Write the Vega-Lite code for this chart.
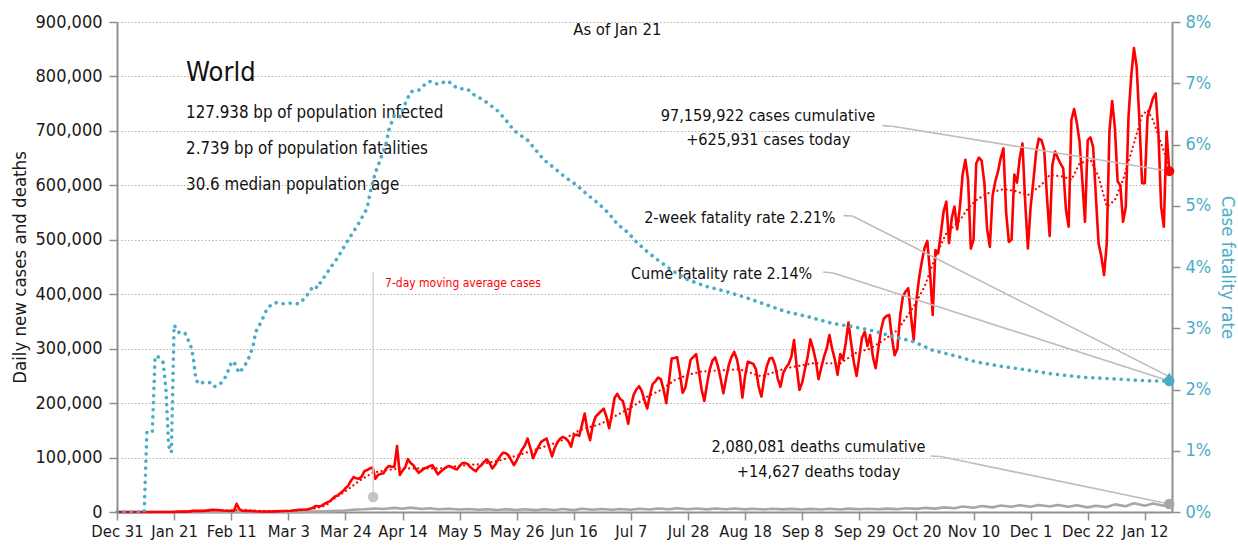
{
"$schema": "https://vega.github.io/schema/vega-lite/v6.json",
"width": 1055,
"height": 490,
"autosize": {"type": "none"},
"padding": {"left": 117, "top": 22, "right": 66, "bottom": 38},
"background": "white",
"config": {
  "font": "DejaVu Sans Condensed, Roboto, sans-serif",
  "view": {"stroke": null},
  "axis": {"domainColor": "#8f8f8f", "domainWidth": 2, "tickColor": "#8f8f8f", "tickWidth": 1.5, "tickSize": 8, "labelFontSize": 18, "labelColor": "#1a1a1a", "titleFontSize": 18.5, "titleFontWeight": "normal", "titleColor": "#1a1a1a", "grid": false, "labelFont": "DejaVu Sans Condensed, Roboto, sans-serif", "titleFont": "DejaVu Sans Condensed, Roboto, sans-serif"}
},
"datasets": {
"cases": [
{"date":"2019-12-31","v":0},{"date":"2020-01-10","v":0},{"date":"2020-01-20","v":100},{"date":"2020-01-23","v":600},{"date":"2020-01-26","v":700},{"date":"2020-01-28","v":2000},{"date":"2020-01-30","v":2000},{"date":"2020-02-01","v":2100},{"date":"2020-02-04","v":3900},{"date":"2020-02-06","v":3700},{"date":"2020-02-08","v":2700},{"date":"2020-02-11","v":2000},{"date":"2020-02-12","v":2000},{"date":"2020-02-13","v":15100},{"date":"2020-02-14","v":5000},{"date":"2020-02-15","v":2600},{"date":"2020-02-18","v":1900},{"date":"2020-02-21","v":1000},{"date":"2020-02-24","v":600},{"date":"2020-02-27","v":1200},
{"date":"2020-03-01","v":1900},{"date":"2020-03-04","v":2400},{"date":"2020-03-07","v":4000},{"date":"2020-03-10","v":4500},{"date":"2020-03-12","v":7500},{"date":"2020-03-13","v":11000},{"date":"2020-03-14","v":10500},{"date":"2020-03-15","v":11000},{"date":"2020-03-16","v":14000},{"date":"2020-03-17","v":17000},{"date":"2020-03-18","v":19000},{"date":"2020-03-19","v":23000},{"date":"2020-03-20","v":28000},{"date":"2020-03-21","v":30000},{"date":"2020-03-22","v":34000},{"date":"2020-03-23","v":38000},{"date":"2020-03-24","v":43500},{"date":"2020-03-25","v":48000},{"date":"2020-03-26","v":57000},{"date":"2020-03-27","v":64000},{"date":"2020-03-28","v":62000},{"date":"2020-03-29","v":61000},{"date":"2020-03-30","v":65000},{"date":"2020-03-31","v":75000},
{"date":"2020-04-01","v":77000},{"date":"2020-04-02","v":80000},{"date":"2020-04-03","v":82000},{"date":"2020-04-04","v":61000},{"date":"2020-04-05","v":68000},{"date":"2020-04-06","v":70000},{"date":"2020-04-07","v":71000},{"date":"2020-04-08","v":80000},{"date":"2020-04-09","v":84500},{"date":"2020-04-10","v":83000},{"date":"2020-04-11","v":83000},{"date":"2020-04-12","v":121000},{"date":"2020-04-13","v":68000},{"date":"2020-04-14","v":76000},{"date":"2020-04-15","v":82000},{"date":"2020-04-16","v":97000},{"date":"2020-04-17","v":90000},{"date":"2020-04-18","v":86000},{"date":"2020-04-19","v":78000},{"date":"2020-04-20","v":72000},{"date":"2020-04-21","v":76000},{"date":"2020-04-22","v":80000},{"date":"2020-04-23","v":82000},{"date":"2020-04-24","v":84000},{"date":"2020-04-25","v":86000},{"date":"2020-04-26","v":78000},{"date":"2020-04-27","v":69000},{"date":"2020-04-28","v":74000},{"date":"2020-04-29","v":78000},{"date":"2020-04-30","v":82000},
{"date":"2020-05-01","v":84500},{"date":"2020-05-02","v":83000},{"date":"2020-05-03","v":80000},{"date":"2020-05-04","v":78000},{"date":"2020-05-05","v":84000},{"date":"2020-05-06","v":90000},{"date":"2020-05-07","v":90000},{"date":"2020-05-08","v":88000},{"date":"2020-05-09","v":82000},{"date":"2020-05-10","v":78000},{"date":"2020-05-11","v":75000},{"date":"2020-05-12","v":82000},{"date":"2020-05-13","v":86000},{"date":"2020-05-14","v":92000},{"date":"2020-05-15","v":96700},{"date":"2020-05-16","v":90000},{"date":"2020-05-17","v":80000},{"date":"2020-05-18","v":86000},{"date":"2020-05-19","v":95000},{"date":"2020-05-20","v":103000},{"date":"2020-05-21","v":109000},{"date":"2020-05-22","v":108000},{"date":"2020-05-23","v":104000},{"date":"2020-05-24","v":95000},{"date":"2020-05-25","v":86000},{"date":"2020-05-26","v":95000},{"date":"2020-05-27","v":105000},{"date":"2020-05-28","v":115000},{"date":"2020-05-29","v":122000},{"date":"2020-05-30","v":135000},{"date":"2020-05-31","v":118000},
{"date":"2020-06-01","v":99000},{"date":"2020-06-02","v":110000},{"date":"2020-06-03","v":120000},{"date":"2020-06-04","v":129000},{"date":"2020-06-05","v":132000},{"date":"2020-06-06","v":135000},{"date":"2020-06-07","v":118000},{"date":"2020-06-08","v":102000},{"date":"2020-06-09","v":118000},{"date":"2020-06-10","v":128000},{"date":"2020-06-11","v":135000},{"date":"2020-06-12","v":138000},{"date":"2020-06-13","v":135000},{"date":"2020-06-14","v":130000},{"date":"2020-06-15","v":120000},{"date":"2020-06-16","v":141000},{"date":"2020-06-17","v":142000},{"date":"2020-06-18","v":140000},{"date":"2020-06-19","v":160000},{"date":"2020-06-20","v":181000},{"date":"2020-06-21","v":150000},{"date":"2020-06-22","v":132000},{"date":"2020-06-23","v":160000},{"date":"2020-06-24","v":175000},{"date":"2020-06-25","v":180000},{"date":"2020-06-26","v":185000},{"date":"2020-06-27","v":190000},{"date":"2020-06-28","v":175000},{"date":"2020-06-29","v":154000},{"date":"2020-06-30","v":180000},
{"date":"2020-07-01","v":210000},{"date":"2020-07-02","v":217000},{"date":"2020-07-03","v":208000},{"date":"2020-07-04","v":204000},{"date":"2020-07-05","v":185000},{"date":"2020-07-06","v":162000},{"date":"2020-07-07","v":195000},{"date":"2020-07-08","v":215000},{"date":"2020-07-09","v":225000},{"date":"2020-07-10","v":231000},{"date":"2020-07-11","v":222000},{"date":"2020-07-12","v":205000},{"date":"2020-07-13","v":190000},{"date":"2020-07-14","v":215000},{"date":"2020-07-15","v":235000},{"date":"2020-07-16","v":240000},{"date":"2020-07-17","v":247000},{"date":"2020-07-18","v":244000},{"date":"2020-07-19","v":225000},{"date":"2020-07-20","v":200000},{"date":"2020-07-21","v":240000},{"date":"2020-07-22","v":282000},{"date":"2020-07-23","v":283000},{"date":"2020-07-24","v":284000},{"date":"2020-07-25","v":255000},{"date":"2020-07-26","v":219000},{"date":"2020-07-27","v":228000},{"date":"2020-07-28","v":255000},{"date":"2020-07-29","v":280000},{"date":"2020-07-30","v":285000},{"date":"2020-07-31","v":290000},
{"date":"2020-08-01","v":258000},{"date":"2020-08-02","v":225000},{"date":"2020-08-03","v":204000},{"date":"2020-08-04","v":235000},{"date":"2020-08-05","v":262000},{"date":"2020-08-06","v":278000},{"date":"2020-08-07","v":284000},{"date":"2020-08-08","v":268000},{"date":"2020-08-09","v":245000},{"date":"2020-08-10","v":218000},{"date":"2020-08-11","v":245000},{"date":"2020-08-12","v":270000},{"date":"2020-08-13","v":285000},{"date":"2020-08-14","v":294000},{"date":"2020-08-15","v":280000},{"date":"2020-08-16","v":255000},{"date":"2020-08-17","v":210000},{"date":"2020-08-18","v":250000},{"date":"2020-08-19","v":276000},{"date":"2020-08-20","v":274000},{"date":"2020-08-21","v":272000},{"date":"2020-08-22","v":262000},{"date":"2020-08-23","v":230000},{"date":"2020-08-24","v":212000},{"date":"2020-08-25","v":245000},{"date":"2020-08-26","v":268000},{"date":"2020-08-27","v":282000},{"date":"2020-08-28","v":283000},{"date":"2020-08-29","v":270000},{"date":"2020-08-30","v":245000},{"date":"2020-08-31","v":230000},
{"date":"2020-09-01","v":255000},{"date":"2020-09-02","v":265000},{"date":"2020-09-03","v":272000},{"date":"2020-09-04","v":285000},{"date":"2020-09-05","v":316000},{"date":"2020-09-06","v":265000},{"date":"2020-09-07","v":224000},{"date":"2020-09-08","v":238000},{"date":"2020-09-09","v":262000},{"date":"2020-09-10","v":285000},{"date":"2020-09-11","v":317000},{"date":"2020-09-12","v":300000},{"date":"2020-09-13","v":278000},{"date":"2020-09-14","v":244000},{"date":"2020-09-15","v":265000},{"date":"2020-09-16","v":285000},{"date":"2020-09-17","v":300000},{"date":"2020-09-18","v":325000},{"date":"2020-09-19","v":300000},{"date":"2020-09-20","v":280000},{"date":"2020-09-21","v":252000},{"date":"2020-09-22","v":290000},{"date":"2020-09-23","v":280000},{"date":"2020-09-24","v":310000},{"date":"2020-09-25","v":348000},{"date":"2020-09-26","v":310000},{"date":"2020-09-27","v":275000},{"date":"2020-09-28","v":250000},{"date":"2020-09-29","v":285000},{"date":"2020-09-30","v":320000},
{"date":"2020-10-01","v":331000},{"date":"2020-10-02","v":305000},{"date":"2020-10-03","v":325000},{"date":"2020-10-04","v":285000},{"date":"2020-10-05","v":264000},{"date":"2020-10-06","v":300000},{"date":"2020-10-07","v":335000},{"date":"2020-10-08","v":355000},{"date":"2020-10-09","v":360000},{"date":"2020-10-10","v":362000},{"date":"2020-10-11","v":320000},{"date":"2020-10-12","v":288000},{"date":"2020-10-13","v":300000},{"date":"2020-10-14","v":360000},{"date":"2020-10-15","v":395000},{"date":"2020-10-16","v":405000},{"date":"2020-10-17","v":411000},{"date":"2020-10-18","v":360000},{"date":"2020-10-19","v":316000},{"date":"2020-10-20","v":389000},{"date":"2020-10-21","v":430000},{"date":"2020-10-22","v":460000},{"date":"2020-10-23","v":485000},{"date":"2020-10-24","v":498000},{"date":"2020-10-25","v":440000},{"date":"2020-10-26","v":362000},{"date":"2020-10-27","v":481000},{"date":"2020-10-28","v":475000},{"date":"2020-10-29","v":512000},{"date":"2020-10-30","v":552000},{"date":"2020-10-31","v":570000},
{"date":"2020-11-01","v":494000},{"date":"2020-11-02","v":540000},{"date":"2020-11-03","v":561000},{"date":"2020-11-04","v":519000},{"date":"2020-11-05","v":560000},{"date":"2020-11-06","v":620000},{"date":"2020-11-07","v":647000},{"date":"2020-11-08","v":610000},{"date":"2020-11-09","v":484000},{"date":"2020-11-10","v":500000},{"date":"2020-11-11","v":640000},{"date":"2020-11-12","v":651000},{"date":"2020-11-13","v":645000},{"date":"2020-11-14","v":604000},{"date":"2020-11-15","v":520000},{"date":"2020-11-16","v":487000},{"date":"2020-11-17","v":580000},{"date":"2020-11-18","v":607000},{"date":"2020-11-19","v":625000},{"date":"2020-11-20","v":650000},{"date":"2020-11-21","v":668000},{"date":"2020-11-22","v":550000},{"date":"2020-11-23","v":496000},{"date":"2020-11-24","v":500000},{"date":"2020-11-25","v":620000},{"date":"2020-11-26","v":605000},{"date":"2020-11-27","v":650000},{"date":"2020-11-28","v":677000},{"date":"2020-11-29","v":570000},{"date":"2020-11-30","v":484000},
{"date":"2020-12-01","v":560000},{"date":"2020-12-02","v":607000},{"date":"2020-12-03","v":660000},{"date":"2020-12-04","v":686000},{"date":"2020-12-05","v":683000},{"date":"2020-12-06","v":665000},{"date":"2020-12-07","v":580000},{"date":"2020-12-08","v":507000},{"date":"2020-12-09","v":637000},{"date":"2020-12-10","v":662000},{"date":"2020-12-11","v":650000},{"date":"2020-12-12","v":640000},{"date":"2020-12-13","v":631000},{"date":"2020-12-14","v":555000},{"date":"2020-12-15","v":524000},{"date":"2020-12-16","v":720000},{"date":"2020-12-17","v":740000},{"date":"2020-12-18","v":715000},{"date":"2020-12-19","v":680000},{"date":"2020-12-20","v":610000},{"date":"2020-12-21","v":533000},{"date":"2020-12-22","v":683000},{"date":"2020-12-23","v":688000},{"date":"2020-12-24","v":670000},{"date":"2020-12-25","v":580000},{"date":"2020-12-26","v":493000},{"date":"2020-12-27","v":470000},{"date":"2020-12-28","v":435000},{"date":"2020-12-29","v":493000},{"date":"2020-12-30","v":700000},{"date":"2020-12-31","v":755000},
{"date":"2021-01-01","v":705000},{"date":"2021-01-02","v":607000},{"date":"2021-01-03","v":600000},{"date":"2021-01-04","v":533000},{"date":"2021-01-05","v":560000},{"date":"2021-01-06","v":726000},{"date":"2021-01-07","v":800000},{"date":"2021-01-08","v":852000},{"date":"2021-01-09","v":818000},{"date":"2021-01-10","v":720000},{"date":"2021-01-11","v":604000},{"date":"2021-01-12","v":604000},{"date":"2021-01-13","v":726000},{"date":"2021-01-14","v":743000},{"date":"2021-01-15","v":760000},{"date":"2021-01-16","v":769000},{"date":"2021-01-17","v":696000},{"date":"2021-01-18","v":561000},{"date":"2021-01-19","v":524000},{"date":"2021-01-20","v":699000},{"date":"2021-01-21","v":625931}
],
"avg": [
{"date":"2019-12-31","v":0},{"date":"2020-01-20","v":0},{"date":"2020-01-27","v":1000},{"date":"2020-02-03","v":2800},{"date":"2020-02-10","v":2800},{"date":"2020-02-15","v":4200},{"date":"2020-02-20","v":2500},{"date":"2020-02-27","v":1000},{"date":"2020-03-05","v":2500},{"date":"2020-03-12","v":5500},{"date":"2020-03-17","v":12000},{"date":"2020-03-19","v":22000},{"date":"2020-03-24","v":38000},{"date":"2020-03-29","v":57000},{"date":"2020-04-03","v":72000},{"date":"2020-04-08","v":77000},{"date":"2020-04-13","v":80000},{"date":"2020-04-21","v":80000},{"date":"2020-04-28","v":80000},{"date":"2020-05-05","v":85000},{"date":"2020-05-13","v":88000},{"date":"2020-05-20","v":95000},{"date":"2020-05-27","v":105000},{"date":"2020-06-04","v":118000},{"date":"2020-06-11","v":130000},{"date":"2020-06-18","v":150000},{"date":"2020-06-26","v":162000},{"date":"2020-07-03","v":181000},{"date":"2020-07-08","v":195000},{"date":"2020-07-13","v":212000},{"date":"2020-07-18","v":224000},{"date":"2020-07-23","v":242000},{"date":"2020-07-28","v":252000},{"date":"2020-08-02","v":258000},{"date":"2020-08-12","v":261000},{"date":"2020-08-16","v":262000},{"date":"2020-08-24","v":249000},{"date":"2020-09-02","v":264000},{"date":"2020-09-12","v":273000},{"date":"2020-09-22","v":273000},{"date":"2020-09-28","v":293000},{"date":"2020-10-03","v":300000},{"date":"2020-10-08","v":316000},{"date":"2020-10-13","v":334000},{"date":"2020-10-19","v":377000},{"date":"2020-10-23","v":414000},{"date":"2020-10-27","v":469000},{"date":"2020-10-31","v":512000},{"date":"2020-11-05","v":536000},{"date":"2020-11-08","v":558000},{"date":"2020-11-11","v":573000},{"date":"2020-11-15","v":585000},{"date":"2020-11-21","v":593000},{"date":"2020-11-25","v":590000},{"date":"2020-11-30","v":582000},{"date":"2020-12-05","v":601000},{"date":"2020-12-08","v":619000},{"date":"2020-12-13","v":616000},{"date":"2020-12-16","v":610000},{"date":"2020-12-19","v":640000},{"date":"2020-12-23","v":647000},{"date":"2020-12-26","v":616000},{"date":"2020-12-29","v":561000},{"date":"2021-01-01","v":573000},{"date":"2021-01-04","v":610000},{"date":"2021-01-08","v":677000},{"date":"2021-01-11","v":729000},{"date":"2021-01-13","v":738000},{"date":"2021-01-15","v":720000},{"date":"2021-01-18","v":677000},{"date":"2021-01-21","v":635000}
],
"deaths": [
{"date":"2019-12-31","v":0},{"date":"2020-01-20","v":0},{"date":"2020-01-30","v":50},{"date":"2020-02-09","v":100},{"date":"2020-02-19","v":120},{"date":"2020-02-29","v":60},{"date":"2020-03-07","v":200},{"date":"2020-03-12","v":600},{"date":"2020-03-17","v":1200},{"date":"2020-03-21","v":2000},{"date":"2020-03-24","v":2800},{"date":"2020-03-28","v":4500},{"date":"2020-03-31","v":5000},{"date":"2020-04-04","v":6500},{"date":"2020-04-07","v":5500},{"date":"2020-04-11","v":7500},{"date":"2020-04-14","v":6000},{"date":"2020-04-17","v":8000},{"date":"2020-04-21","v":5500},{"date":"2020-04-24","v":7000},{"date":"2020-04-27","v":5000},{"date":"2020-05-01","v":6000},{"date":"2020-05-05","v":4500},{"date":"2020-05-08","v":5500},{"date":"2020-05-12","v":4000},{"date":"2020-05-15","v":5000},{"date":"2020-05-19","v":3800},{"date":"2020-05-22","v":5000},{"date":"2020-05-26","v":3800},{"date":"2020-05-29","v":5000},{"date":"2020-06-02","v":3500},{"date":"2020-06-05","v":5000},{"date":"2020-06-09","v":3800},{"date":"2020-06-12","v":5500},{"date":"2020-06-16","v":3500},{"date":"2020-06-19","v":6000},{"date":"2020-06-23","v":4000},{"date":"2020-06-26","v":5500},{"date":"2020-06-30","v":4200},{"date":"2020-07-03","v":5500},{"date":"2020-07-07","v":4200},{"date":"2020-07-10","v":6000},{"date":"2020-07-14","v":4500},{"date":"2020-07-17","v":6500},{"date":"2020-07-21","v":5000},{"date":"2020-07-24","v":7000},{"date":"2020-07-28","v":5000},{"date":"2020-07-31","v":6500},{"date":"2020-08-04","v":4800},{"date":"2020-08-07","v":6300},{"date":"2020-08-11","v":5000},{"date":"2020-08-14","v":6300},{"date":"2020-08-18","v":4800},{"date":"2020-08-21","v":6000},{"date":"2020-08-25","v":4700},{"date":"2020-08-28","v":6000},{"date":"2020-09-01","v":4800},{"date":"2020-09-04","v":5800},{"date":"2020-09-08","v":4500},{"date":"2020-09-11","v":5800},{"date":"2020-09-15","v":4600},{"date":"2020-09-18","v":6000},{"date":"2020-09-22","v":4500},{"date":"2020-09-25","v":6200},{"date":"2020-09-29","v":5000},{"date":"2020-10-02","v":6000},{"date":"2020-10-06","v":5000},{"date":"2020-10-09","v":6200},{"date":"2020-10-13","v":5200},{"date":"2020-10-16","v":6800},{"date":"2020-10-20","v":5800},{"date":"2020-10-23","v":7500},{"date":"2020-10-27","v":6200},{"date":"2020-10-30","v":8500},{"date":"2020-11-03","v":7000},{"date":"2020-11-06","v":10000},{"date":"2020-11-10","v":7800},{"date":"2020-11-13","v":11000},{"date":"2020-11-17","v":8500},{"date":"2020-11-20","v":12000},{"date":"2020-11-24","v":9500},{"date":"2020-11-27","v":12500},{"date":"2020-12-01","v":9500},{"date":"2020-12-04","v":13000},{"date":"2020-12-08","v":10000},{"date":"2020-12-11","v":13000},{"date":"2020-12-15","v":9500},{"date":"2020-12-18","v":12500},{"date":"2020-12-22","v":8500},{"date":"2020-12-25","v":11500},{"date":"2020-12-29","v":9000},{"date":"2021-01-01","v":14000},{"date":"2021-01-05","v":10500},{"date":"2021-01-08","v":16000},{"date":"2021-01-12","v":11500},{"date":"2021-01-15","v":15500},{"date":"2021-01-19","v":11500},{"date":"2021-01-21","v":14627}
],
"cfr": [
{"date":"2019-12-31","cfr":0},{"date":"2020-01-09","cfr":0},{"date":"2020-01-10","cfr":0},{"date":"2020-01-11","cfr":0.0131},{"date":"2020-01-13","cfr":0.0131},{"date":"2020-01-14","cfr":0.0254},{"date":"2020-01-15","cfr":0.0254},{"date":"2020-01-17","cfr":0.0244},{"date":"2020-01-18","cfr":0.020},{"date":"2020-01-19","cfr":0.0108},{"date":"2020-01-20","cfr":0.0097},{"date":"2020-01-21","cfr":0.0305},{"date":"2020-01-23","cfr":0.0292},{"date":"2020-01-25","cfr":0.0292},{"date":"2020-01-27","cfr":0.0273},{"date":"2020-01-28","cfr":0.0254},{"date":"2020-01-29","cfr":0.0217},{"date":"2020-01-30","cfr":0.0209},{"date":"2020-02-01","cfr":0.0212},{"date":"2020-02-04","cfr":0.0211},{"date":"2020-02-05","cfr":0.0205},{"date":"2020-02-07","cfr":0.0209},{"date":"2020-02-09","cfr":0.0221},{"date":"2020-02-11","cfr":0.0243},{"date":"2020-02-12","cfr":0.0246},{"date":"2020-02-13","cfr":0.0235},{"date":"2020-02-14","cfr":0.0227},{"date":"2020-02-15","cfr":0.0233},{"date":"2020-02-17","cfr":0.0246},{"date":"2020-02-19","cfr":0.0270},{"date":"2020-02-20","cfr":0.0294},{"date":"2020-02-22","cfr":0.0310},{"date":"2020-02-24","cfr":0.0330},{"date":"2020-02-26","cfr":0.0340},{"date":"2020-02-28","cfr":0.0342},{"date":"2020-03-01","cfr":0.0340},{"date":"2020-03-04","cfr":0.0341},{"date":"2020-03-07","cfr":0.0340},{"date":"2020-03-09","cfr":0.0349},{"date":"2020-03-11","cfr":0.0360},{"date":"2020-03-12","cfr":0.0369},{"date":"2020-03-14","cfr":0.0366},{"date":"2020-03-15","cfr":0.0377},{"date":"2020-03-17","cfr":0.0388},{"date":"2020-03-18","cfr":0.0396},{"date":"2020-03-21","cfr":0.0414},{"date":"2020-03-25","cfr":0.0444},{"date":"2020-03-29","cfr":0.0472},{"date":"2020-04-01","cfr":0.0496},{"date":"2020-04-02","cfr":0.0520},{"date":"2020-04-04","cfr":0.0554},{"date":"2020-04-06","cfr":0.0577},{"date":"2020-04-08","cfr":0.0602},{"date":"2020-04-09","cfr":0.0624},{"date":"2020-04-10","cfr":0.0636},{"date":"2020-04-11","cfr":0.0648},{"date":"2020-04-13","cfr":0.0645},{"date":"2020-04-15","cfr":0.0667},{"date":"2020-04-17","cfr":0.0686},{"date":"2020-04-20","cfr":0.0689},{"date":"2020-04-22","cfr":0.0697},{"date":"2020-04-24","cfr":0.0703},{"date":"2020-04-26","cfr":0.0699},{"date":"2020-04-28","cfr":0.0699},{"date":"2020-04-30","cfr":0.0704},{"date":"2020-05-02","cfr":0.0700},{"date":"2020-05-04","cfr":0.0692},{"date":"2020-05-08","cfr":0.0690},{"date":"2020-05-10","cfr":0.0682},{"date":"2020-05-14","cfr":0.0672},{"date":"2020-05-19","cfr":0.0655},{"date":"2020-05-22","cfr":0.0640},{"date":"2020-05-25","cfr":0.0623},{"date":"2020-05-30","cfr":0.0607},{"date":"2020-06-02","cfr":0.0591},{"date":"2020-06-05","cfr":0.0575},{"date":"2020-06-09","cfr":0.0561},{"date":"2020-06-13","cfr":0.0546},{"date":"2020-06-17","cfr":0.0534},{"date":"2020-06-21","cfr":0.0518},{"date":"2020-06-25","cfr":0.0504},{"date":"2020-06-29","cfr":0.0487},{"date":"2020-07-02","cfr":0.0470},{"date":"2020-07-06","cfr":0.0456},{"date":"2020-07-09","cfr":0.0441},{"date":"2020-07-13","cfr":0.0425},{"date":"2020-07-17","cfr":0.0411},{"date":"2020-07-23","cfr":0.0392},{"date":"2020-07-28","cfr":0.0379},{"date":"2020-08-04","cfr":0.0368},{"date":"2020-08-11","cfr":0.0360},{"date":"2020-08-19","cfr":0.0349},{"date":"2020-08-26","cfr":0.0338},{"date":"2020-09-02","cfr":0.0327},{"date":"2020-09-10","cfr":0.0319},{"date":"2020-09-19","cfr":0.0308},{"date":"2020-09-26","cfr":0.0303},{"date":"2020-10-03","cfr":0.0297},{"date":"2020-10-12","cfr":0.0286},{"date":"2020-10-19","cfr":0.0278},{"date":"2020-10-26","cfr":0.0264},{"date":"2020-11-04","cfr":0.0254},{"date":"2020-11-11","cfr":0.0245},{"date":"2020-11-20","cfr":0.0238},{"date":"2020-11-28","cfr":0.0233},{"date":"2020-12-08","cfr":0.0226},{"date":"2020-12-20","cfr":0.0220},{"date":"2021-01-02","cfr":0.0217},{"date":"2021-01-14","cfr":0.0214},{"date":"2021-01-21","cfr":0.0214}
],
"leaders": [
{"date":"2020-10-07T12:00:00Z","date2":"2020-10-11T05:00:00Z","v":709600,"v2":708500},
{"date":"2020-10-11T05:00:00Z","date2":"2021-01-21","v":708500,"v2":626000},
{"date":"2020-09-23T05:00:00Z","date2":"2020-09-26T12:00:00Z","v":544300,"v2":543700},
{"date":"2020-09-26T12:00:00Z","date2":"2021-01-21","v":543700,"v2":248700},
{"date":"2020-09-15T17:00:00Z","date2":"2020-09-19T10:00:00Z","v":440900,"v2":439000},
{"date":"2020-09-19T10:00:00Z","date2":"2021-01-21","v":439000,"v2":240800},
{"date":"2020-10-25T05:00:00Z","date2":"2020-10-28T22:00:00Z","v":102900,"v2":102000},
{"date":"2020-10-28T22:00:00Z","date2":"2021-01-21","v":102000,"v2":14600}
]
},
"encoding": {
  "x": {"field": "date", "type": "temporal",
    "scale": {"type": "utc", "domain": [{"year": 2019, "month": 12, "date": 31, "utc": true}, {"year": 2021, "month": 1, "date": 22, "utc": true}]},
    "axis": {"orient": "bottom", "title": null, "format": "%b %-d", "labelFontSize": 16.5, "labelPadding": 3, "labelFlush": false, "labelOverlap": false,
      "values": [{"year":2019,"month":12,"date":31,"utc":true},{"year":2020,"month":1,"date":21,"utc":true},{"year":2020,"month":2,"date":11,"utc":true},{"year":2020,"month":3,"date":3,"utc":true},{"year":2020,"month":3,"date":24,"utc":true},{"year":2020,"month":4,"date":14,"utc":true},{"year":2020,"month":5,"date":5,"utc":true},{"year":2020,"month":5,"date":26,"utc":true},{"year":2020,"month":6,"date":16,"utc":true},{"year":2020,"month":7,"date":7,"utc":true},{"year":2020,"month":7,"date":28,"utc":true},{"year":2020,"month":8,"date":18,"utc":true},{"year":2020,"month":9,"date":8,"utc":true},{"year":2020,"month":9,"date":29,"utc":true},{"year":2020,"month":10,"date":20,"utc":true},{"year":2020,"month":11,"date":10,"utc":true},{"year":2020,"month":12,"date":1,"utc":true},{"year":2020,"month":12,"date":22,"utc":true},{"year":2021,"month":1,"date":12,"utc":true}]}}
},
"layer": [
 {
  "encoding": {
    "y": {"field": "v", "type": "quantitative", "scale": {"domain": [0, 900000], "nice": false},
      "axis": {"orient": "left", "values": [0,100000,200000,300000,400000,500000,600000,700000,800000,900000], "format": ",.0f", "grid": true, "gridColor": "#b3b3b3", "gridDash": [1.5, 2], "gridWidth": 1.2, "labelPadding": 7, "title": "Daily new cases and deaths", "titleX": -92, "titleY": 245, "titleAngle": 270, "titleBaseline": "alphabetic", "titleAlign": "center"}}
  },
  "layer": [
   {"data": {"name": "deaths"}, "mark": {"type": "line", "color": "#a6a6a6", "strokeWidth": 2.6, "strokeJoin": "round"}},
   {"data": {"name": "avg"}, "mark": {"type": "line", "color": "#ff0000", "strokeWidth": 2.2, "strokeDash": [0.1, 4.5], "strokeCap": "round"}},
   {"data": {"name": "cases"}, "mark": {"type": "line", "color": "#ff0000", "strokeWidth": 2.6, "strokeJoin": "round"}},
   {"data": {"name": "leaders"}, "mark": {"type": "rule", "color": "#bdbdbd", "strokeWidth": 1.6},
    "encoding": {"x2": {"field": "date2"}, "y2": {"field": "v2"}}},
   {"data": {"values": [{"date": "2020-04-03T05:00:00Z", "date2": "2020-04-03T05:00:00Z", "v": 27500, "v2": 441000}]}, "mark": {"type": "rule", "color": "#d4d4d4", "strokeWidth": 1.5},
    "encoding": {"x2": {"field": "date2"}, "y2": {"field": "v2"}}},
   {"data": {"values": [{"date": "2020-04-03T05:00:00Z", "v": 27500}]}, "mark": {"type": "point", "filled": true, "shape": "circle", "size": 110, "color": "#c4c4c4", "opacity": 1}},
   {"data": {"values": [{"date": "2021-01-21", "v": 14627}]}, "mark": {"type": "point", "filled": true, "shape": "circle", "size": 110, "color": "#a6a6a6", "opacity": 1}},
   {"data": {"values": [{"date": "2021-01-21", "v": 625931}]}, "mark": {"type": "point", "filled": true, "shape": "circle", "size": 100, "color": "#ff0000", "opacity": 1}},
   {"data": {"values": [{"date": "2020-01-25T10:00:00Z", "v": 791700, "t": "World"}]}, "mark": {"type": "text", "align": "left", "baseline": "alphabetic", "fontSize": 27, "color": "#111111"}, "encoding": {"text": {"field": "t"}}},
   {"data": {"values": [{"date": "2020-01-25T10:00:00Z", "v": 723700, "t": "127.938 bp of population infected"}, {"date": "2020-01-25T10:00:00Z", "v": 657600, "t": "2.739 bp of population fatalities"}, {"date": "2020-01-25T10:00:00Z", "v": 591500, "t": "30.6 median population age"}]}, "mark": {"type": "text", "align": "left", "baseline": "alphabetic", "fontSize": 16.8, "color": "#111111"}, "encoding": {"text": {"field": "t"}}},
   {"data": {"values": [{"date": "2020-08-26T10:00:00Z", "v": 718200, "t": "97,159,922 cases cumulative"}, {"date": "2020-08-26T12:00:00Z", "v": 674100, "t": "+625,931 cases today"}, {"date": "2020-09-14", "v": 110800, "t": "2,080,081 deaths cumulative"}, {"date": "2020-09-14", "v": 64900, "t": "+14,627 deaths today"}]}, "mark": {"type": "text", "align": "center", "baseline": "alphabetic", "fontSize": 16.2, "color": "#111111"}, "encoding": {"text": {"field": "t"}}},
   {"data": {"values": [{"date": "2020-09-20T06:00:00Z", "v": 530300, "t": "2-week fatality rate 2.21%"}, {"date": "2020-09-11T17:00:00Z", "v": 428000, "t": "Cume fatality rate 2.14%"}]}, "mark": {"type": "text", "align": "right", "baseline": "alphabetic", "fontSize": 16, "color": "#111111"}, "encoding": {"text": {"field": "t"}}},
   {"data": {"values": [{"date": "2020-04-07T14:00:00Z", "v": 413900, "t": "7-day moving average cases"}]}, "mark": {"type": "text", "align": "left", "baseline": "alphabetic", "fontSize": 12, "color": "#ff0000"}, "encoding": {"text": {"field": "t"}}},
   {"data": {"values": [{"date": "2020-07-02", "v": 885000, "t": "As of Jan 21"}]}, "mark": {"type": "text", "align": "center", "baseline": "middle", "fontSize": 16.5, "color": "#111111"}, "encoding": {"text": {"field": "t"}}}
  ]
 },
 {
  "encoding": {
    "y": {"field": "cfr", "type": "quantitative", "scale": {"domain": [0, 0.08], "nice": false},
      "axis": {"orient": "right", "values": [0,0.01,0.02,0.03,0.04,0.05,0.06,0.07,0.08], "format": ".0%", "grid": false, "labelColor": "#4bacc6", "titleColor": "#4bacc6", "labelPadding": 5, "title": "Case fatality rate", "titleX": 49, "titleY": 245, "titleAngle": 90, "titleBaseline": "alphabetic", "titleAlign": "center"}}
  },
  "layer": [
   {"data": {"name": "cfr"}, "mark": {"type": "line", "color": "#4bacc6", "strokeWidth": 3.6, "strokeDash": [0.1, 7], "strokeCap": "round"}},
   {"data": {"values": [{"date": "2021-01-21", "cfr": 0.0214}]}, "mark": {"type": "point", "filled": true, "shape": "circle", "size": 110, "color": "#4bacc6", "opacity": 1}},
   {"data": {"values": [{"date": "2021-01-21", "cfr": 0.0221}]}, "mark": {"type": "point", "filled": true, "shape": "triangle-up", "size": 90, "color": "#4bacc6", "opacity": 1}}
  ]
 }
],
"resolve": {"scale": {"y": "independent"}}
}
